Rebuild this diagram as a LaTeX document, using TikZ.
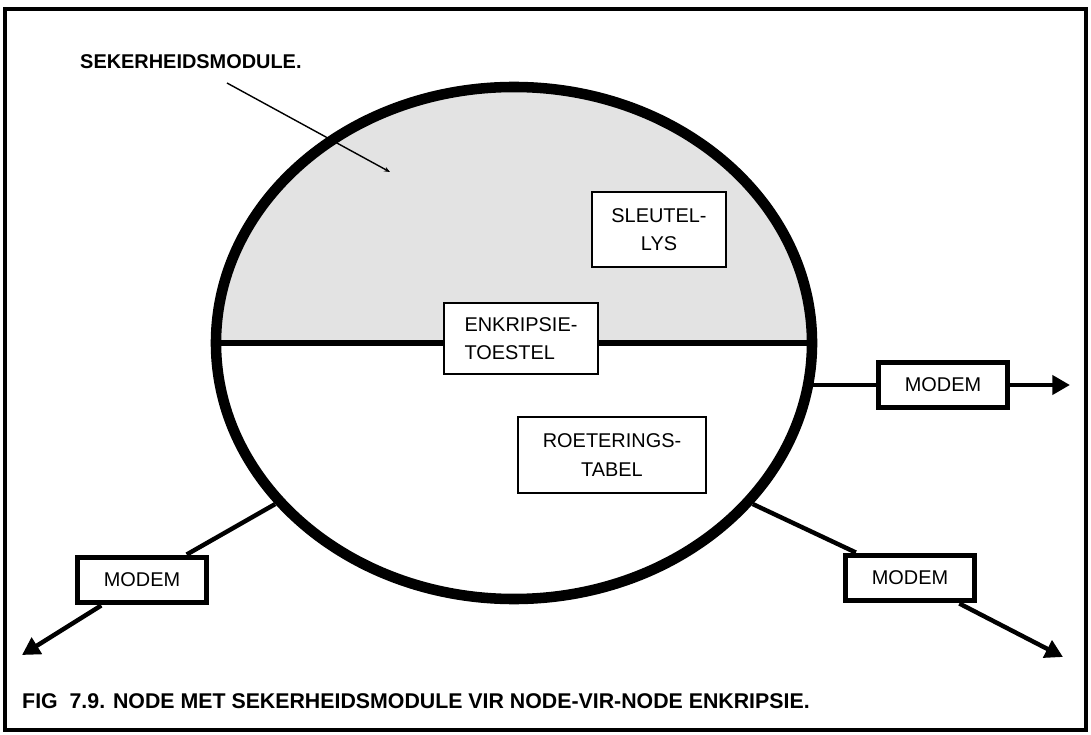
\documentclass[tikz,border=0pt]{standalone}
\usepackage{fontspec}
\setmainfont{Liberation Sans}
\usetikzlibrary{shapes.geometric,arrows.meta}
\begin{document}
\begin{tikzpicture}[x=0.03cm,y=-0.03cm,
  boxtext/.style={font=\fontsize{17}{24}\selectfont},
  thinbox/.style={draw, line width=1.2pt, fill=white, inner sep=0pt, boxtext},
  modembox/.style={draw, line width=4.5pt, fill=white, inner sep=0pt, minimum width=3.85cm, minimum height=1.37cm, boxtext},
  conn/.style={line width=3.8pt},
  arr/.style={conn, -{Triangle[length=15pt,width=16pt]}},
  boldtext/.style={font=\fontsize{17}{20}\selectfont\bfseries, inner sep=0pt},
  captiontext/.style={font=\fontsize{18.2}{22}\selectfont\bfseries, inner sep=0pt}
]
\useasboundingbox (0,0) rectangle (1091,735);
\draw[line width=4pt] (5,9) rectangle (1086,730);

% shaded upper half
\begin{scope}
  \clip (514,343) ellipse [x radius=8.94cm, y radius=7.68cm];
  \fill[black!11] (200,60) rectangle (830,343);
\end{scope}

\node[ellipse, draw, line width=9pt, minimum width=17.88cm, minimum height=15.36cm, inner sep=0pt] (ell) at (514,343) {};
\draw[line width=4.5pt] (ell.west) -- (ell.east);

% inner boxes
\node[thinbox, minimum width=4.02cm, minimum height=2.25cm, align=center] (sleutel) at (659,229.5) {SLEUTEL-\\LYS};
\node[thinbox, minimum width=4.62cm, minimum height=2.13cm, align=left] (enkr) at (521,338.5) {ENKRIPSIE-\\TOESTEL};
\node[thinbox, minimum width=5.64cm, minimum height=2.28cm, align=center] (roet) at (612,455) {ROETERINGS-\\TABEL\hspace*{0pt}};

% modems
\node[modembox] (modemR) at (943,385) {MODEM};
\node[modembox] (modemL) at (142,580) {MODEM};
\node[modembox] (modemBR) at (910,578) {MODEM};

\coordinate (tipR) at (1070,385);
\coordinate (tipL) at (22,655);
\coordinate (tipBR) at (1063,657);

\draw[conn] (ell.352) -- (ell.352 -| modemR.west);
\draw[arr] (modemR.east) -- (tipR);
\draw[conn] (ell.214) -- (modemL);
\draw[arr] (modemL) -- (tipL);
\draw[conn] (ell.326) -- (modemBR);
\draw[arr] (modemBR) -- (tipBR);

% label
\node[boldtext, anchor=west] (lbl) at (80,62) {SEKERHEIDSMODULE.};
\coordinate (lblstart) at (227,83);
\coordinate (lblend) at (390,172);
\draw[line width=1.2pt, -{Stealth[length=5pt,width=4pt]}] (lblstart) -- (lblend);

% caption
\node[captiontext, anchor=west] (caption) at (22,701) {FIG\ \ 7.9. NODE MET SEKERHEIDSMODULE VIR NODE-VIR-NODE ENKRIPSIE.};
\end{tikzpicture}
\end{document}
